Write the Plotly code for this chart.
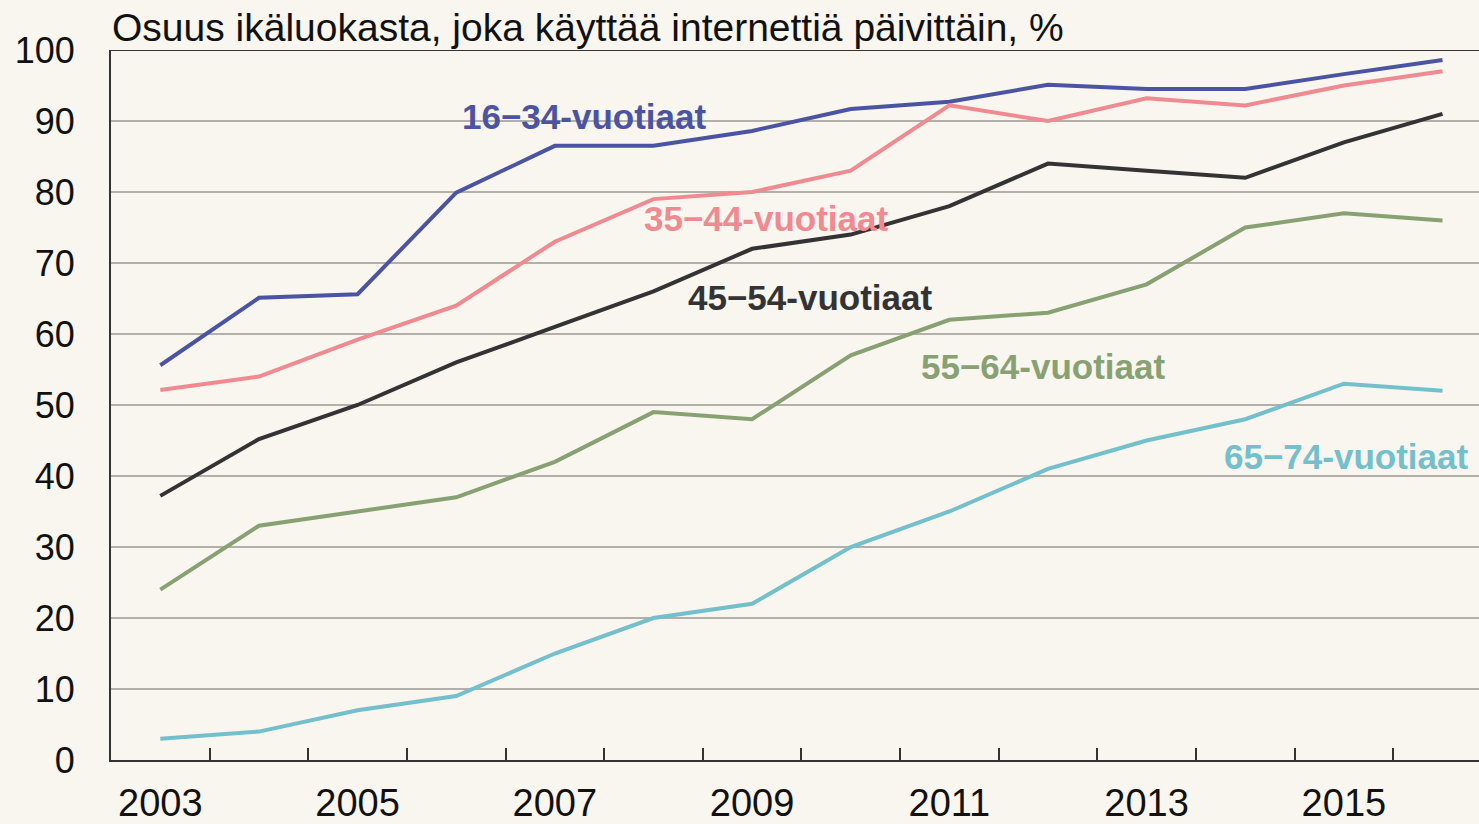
import plotly.graph_objects as go

years = [str(y) for y in range(2003, 2017)]
tick_labels = [y if int(y) % 2 == 1 else "" for y in years]

s16_34 = [55.6, 65.1, 65.6, 79.9, 86.5, 86.5, 88.6, 91.7, 92.7, 95.1, 94.5, 94.5, 96.6, 98.6]
s35_44 = [52.1, 54.0, 59.2, 64.0, 73.0, 79.0, 80.0, 83.0, 92.2, 90.0, 93.2, 92.2, 95.0, 97.0]
s45_54 = [37.2, 45.2, 50.0, 56.0, 61.0, 66.0, 72.0, 74.0, 78.0, 84.0, 83.0, 82.0, 87.0, 91.0]
s55_64 = [24.0, 33.0, 35.0, 37.0, 42.0, 49.0, 48.0, 57.0, 62.0, 63.0, 67.0, 75.0, 77.0, 76.0]
s65_74 = [3.0, 4.0, 7.0, 9.0, 15.0, 20.0, 22.0, 30.0, 35.0, 41.0, 45.0, 48.0, 53.0, 52.0]

series = [
    ("16−34-vuotiaat", s16_34, "#4a54a3", 4.3, 90.6),
    ("35−44-vuotiaat", s35_44, "#ef8a91", 6.14, 76.3),
    ("45−54-vuotiaat", s45_54, "#333333", 6.59, 65.2),
    ("55−64-vuotiaat", s55_64, "#87a173", 8.95, 55.4),
    ("65−74-vuotiaat", s65_74, "#74bfcc", 12.02, 42.7),
]

bg = "#f9f5ef"
fig = go.Figure()
for name, vals, color, ax, ay in series:
    fig.add_trace(go.Scatter(x=years, y=vals, mode="lines", name=name,
                             line=dict(color=color, width=4), showlegend=False))
    fig.add_annotation(x=ax, y=ay, text="<b>%s</b>" % name, showarrow=False,
                       font=dict(size=35, color=color, family="Liberation Sans, Arial"),
                       xref="x", yref="y")

fig.add_annotation(x=0, y=1, xref="paper", yref="paper", xanchor="left", yanchor="bottom",
                   text="Osuus ikäluokasta, joka käyttää internettiä päivittäin, %",
                   showarrow=False, yshift=-1, xshift=-1,
                   font=dict(size=39, color="#111111", family="Liberation Sans, Arial"))

fig.add_shape(type="line", xref="paper", yref="y", x0=0, x1=1, y0=100, y1=100,
              line=dict(color="#333333", width=2))

fig.update_layout(
    width=1479, height=824,
    margin=dict(l=111, r=0, t=50, b=64, autoexpand=False),
    paper_bgcolor=bg, plot_bgcolor=bg,
    font=dict(family="Liberation Sans, Arial", size=36, color="#111111"),
    xaxis=dict(type="category", categoryorder="array", categoryarray=years,
               tickmode="array", tickvals=years, ticktext=tick_labels,
               tickson="boundaries", ticks="inside", ticklen=12, tickwidth=1.5,
               tickcolor="#333333", showgrid=False, showline=True,
               linecolor="#333333", linewidth=2, range=[-0.5, 13.37],
               ticklabelstandoff=8, zeroline=False, automargin=False,
               tickfont=dict(size=38)),
    yaxis=dict(range=[0, 100], tickvals=list(range(0, 101, 10)),
               showgrid=True, gridcolor="#b3afa9", gridwidth=1.5,
               showline=True, linecolor="#333333", linewidth=2,
               ticks="", ticklabelstandoff=27, zeroline=False, automargin=False),
)

post = ("document.body.style.margin='0';document.body.style.overflow='hidden';"
        "document.body.style.background='%s';"
        "document.documentElement.style.background='%s';" % (bg, bg))
fig.write_html("out.html", post_script=post, config={"displayModeBar": False})
